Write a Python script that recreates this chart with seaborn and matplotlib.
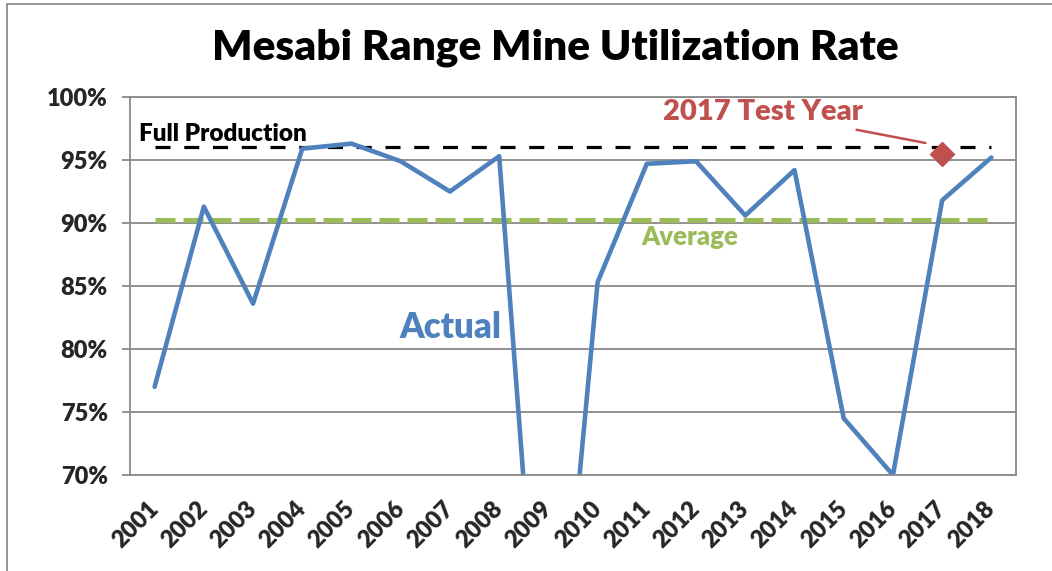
import numpy as np
import pandas as pd
import matplotlib
matplotlib.use("Agg")
import matplotlib.pyplot as plt
import seaborn as sns
from matplotlib.patches import Rectangle

# chart data
years = [str(y) for y in range(2001, 2019)]
actual = [77.0, 91.3, 83.6, 95.9, 96.3, 94.9, 92.5, 95.3, 43.5,
          85.3, 94.7, 94.9, 90.6, 94.2, 74.5, 70.0, 91.8, 95.2]
full_production = 96.0
average = 90.2
test_year = "2017"
test_value = 95.5
y_ticks = [70, 75, 80, 85, 90, 95, 100]

BLUE = "#4F81BD"
GREEN = "#9BBB59"
RED = "#C0504D"
GRID = "#898989"
FONT = "Lato"
WEIGHT = "heavy"

sns.set_style("white")
plt.rcParams["font.family"] = [FONT, "DejaVu Sans"]

pos = np.arange(len(years))
df = pd.DataFrame({"pos": pos, "actual": actual,
                   "full": [full_production] * len(years),
                   "avg": [average] * len(years)})

fig = plt.figure(figsize=(10.52, 5.71), dpi=100)
ax = fig.add_axes([130 / 1052, 1 - 475 / 571, (1016 - 130) / 1052, (475 - 97) / 571])

# chart area border (Excel style, cut off at right/bottom)
fig.patches.append(Rectangle((7 / 1052, -0.1), 1.2, 1.1 - 4 / 571, transform=fig.transFigure,
                             fill=False, edgecolor="#8C8C8C", linewidth=1.3))

sns.lineplot(data=df, x="pos", y="full", ax=ax, color="black", linewidth=2.3,
             legend=False).lines[-1].set_dashes([4.7, 4.3])
sns.lineplot(data=df, x="pos", y="avg", ax=ax, color=GREEN, linewidth=3.6,
             legend=False).lines[-1].set_dashes([4, 1.6])
sns.lineplot(data=df, x="pos", y="actual", ax=ax, color=BLUE, linewidth=3.3,
             legend=False)
ti = years.index(test_year)
sns.scatterplot(x=[pos[ti]], y=[test_value], ax=ax, marker="D", s=150,
                color=RED, edgecolor=RED, zorder=5, legend=False)

ax.set_xlim(-0.5, len(years) - 0.5)
ax.set_ylim(y_ticks[0], y_ticks[-1])
ax.set_yticks(y_ticks)
ax.set_yticklabels([f"{v}%" for v in y_ticks], fontsize=17, fontweight=WEIGHT)
ax.set_xticks(pos)
ax.set_xticklabels(years, rotation=45, ha="right", va="center",
                   rotation_mode="anchor", fontsize=17, fontweight=WEIGHT)
ax.set_xticks(np.arange(-0.5, len(years), 1.0), minor=True)
ax.tick_params(axis="x", which="major", length=0, pad=22)
ax.tick_params(axis="x", which="minor", length=6, width=1.3, color=GRID, direction="out")
ax.tick_params(axis="y", length=6, width=1.3, color=GRID, direction="out", pad=10, left=True)
ax.grid(axis="y", color=GRID, linewidth=1.3)
ax.set_axisbelow(True)
for s in ax.spines.values():
    s.set_color(GRID)
    s.set_linewidth(1.3)
ax.set_xlabel("")
ax.set_ylabel("")

# annotations
ax.text(-0.32, 97.1, "Full Production", ha="left", va="center", fontsize=17.5,
        fontweight=WEIGHT, color="black")
ax.text(12.35, 98.8, "2017 Test Year", ha="center", va="center", fontsize=21,
        fontweight=WEIGHT, color=RED)
ax.plot([14.26, 15.66], [97.4, 96.35], color=RED, linewidth=1.8)
ax.text(10.88, 88.9, "Average", ha="center", va="center", fontsize=18.5,
        fontweight=WEIGHT, color=GREEN)
ax.text(6.02, 81.7, "Actual", ha="center", va="center", fontsize=25,
        fontweight=WEIGHT, color=BLUE)

fig.text(0.528, 1 - 48 / 571, "Mesabi Range Mine Utilization Rate", ha="center",
         va="center", fontsize=30.5, fontweight=WEIGHT, color="black")

fig.savefig("out.png", dpi=100)
